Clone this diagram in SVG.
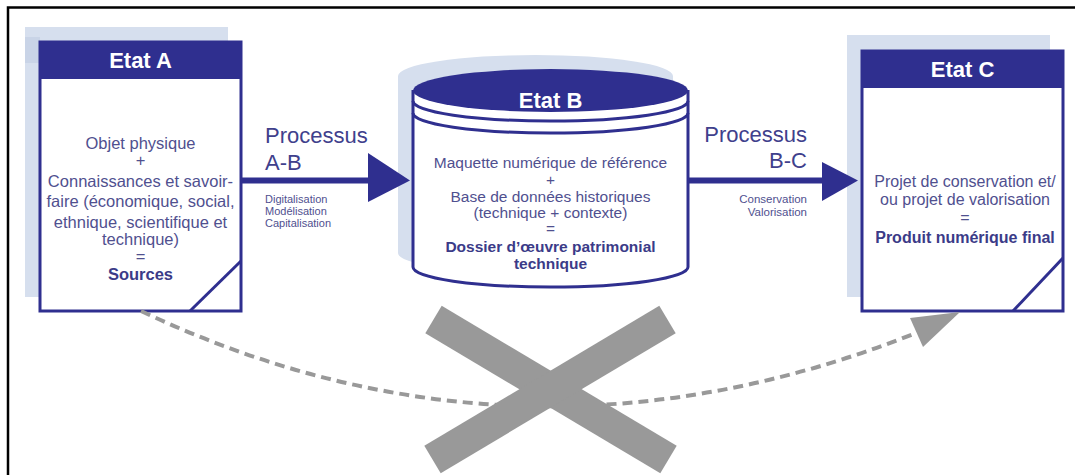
<svg xmlns="http://www.w3.org/2000/svg" width="1075" height="475" viewBox="0 0 1075 475">
<style>
  .frame{fill:none;stroke:#000;stroke-width:2.5}
  .shadow{fill:#d6dfee}
  .shadowDark{fill:#c9d4e7}
  .box{fill:#fff;stroke:#2f2f8f;stroke-width:3}
  .head{fill:#2f2f8f}
  .thin{fill:none;stroke:#2f2f8f;stroke-width:3}
  .title{font-family:"Liberation Sans",Arial,sans-serif;font-weight:bold;font-size:22px;fill:#fff;text-anchor:middle}
  .body{font-family:"Liberation Sans",Arial,sans-serif;font-size:16.5px;fill:#50508f;text-anchor:middle}
  .bodyB{font-size:15.5px}
  .bodyC{font-size:16px}
  .bold{font-weight:bold;fill:#3b3b88}
  .proc{font-family:"Liberation Sans",Arial,sans-serif;font-size:22px;fill:#40408c}
  .small{font-family:"Liberation Sans",Arial,sans-serif;font-size:11px;fill:#50508f}
  .smallR{font-size:11.5px}
  .arrow{stroke:#2f2f8f;stroke-width:6;fill:none}
  .head-blue{fill:#2f2f8f}
  .dash{fill:none;stroke:#999;stroke-width:4;stroke-dasharray:10 6}
  .grey{fill:#999}
</style>

<g id="frame">
  <polyline class="frame" points="8,475 8,7.5 1075,7.5"/>
</g>

<g id="nodeA">
  <rect class="shadow" x="25" y="27" width="203" height="270"/>
  <rect class="shadowDark" x="25" y="37" width="15" height="26"/>
  <rect class="box" x="40" y="42" width="201" height="269"/>
  <rect class="head" x="40" y="42" width="201" height="37"/>
  <line class="thin" x1="241" y1="261" x2="190" y2="311"/>
  <text class="title" x="140.5" y="68">Etat A</text>
  <text class="body" x="140.5" y="149">Objet physique</text>
  <text class="body" x="140.5" y="166">+</text>
  <text class="body" x="140.5" y="187">Connaissances et savoir-</text>
  <text class="body" x="140.5" y="207">faire (économique, social,</text>
  <text class="body" x="140.5" y="227.5">ethnique, scientifique et</text>
  <text class="body" x="140.5" y="244.5">technique)</text>
  <text class="body" x="140.5" y="261.5">=</text>
  <text class="body bold" x="140.5" y="279.5">Sources</text>
</g>

<g id="nodeB">
  <path class="shadow" d="M398,76 A137.5,21 0 0 1 673,76 L673,253 A137.5,20 0 0 1 398,253 Z"/>
  <path class="box" d="M413,90 L413,267 A137.5,20 0 0 0 688,267 L688,90"/>
  <ellipse class="head" cx="550.5" cy="90.5" rx="137.5" ry="21.5"/>
  <path class="thin" stroke-width="2.5" d="M413,101 A137.5,20 0 0 0 688,101"/>
  <path class="thin" stroke-width="2.5" d="M413,113 A137.5,20 0 0 0 688,113"/>
  <text class="title" x="550.5" y="108">Etat B</text>
  <text class="body bodyB" x="550.5" y="168">Maquette numérique de référence</text>
  <text class="body bodyB" x="550.5" y="185">+</text>
  <text class="body bodyB" x="550.5" y="201.5">Base de données historiques</text>
  <text class="body bodyB" x="550.5" y="217.5">(technique + contexte)</text>
  <text class="body bodyB" x="550.5" y="233.5">=</text>
  <text class="body bodyB bold" x="550.5" y="251.5">Dossier d’œuvre patrimonial</text>
  <text class="body bodyB bold" x="550.5" y="268.5">technique</text>
</g>

<g id="nodeC">
  <rect class="shadow" x="847" y="35" width="203" height="262"/>
  <rect class="box" x="862" y="51" width="201" height="260"/>
  <rect class="head" x="862" y="51" width="201" height="37"/>
  <line class="thin" x1="1063" y1="258" x2="1013" y2="311"/>
  <text class="title" x="962.5" y="77">Etat C</text>
  <text class="body bodyC" x="965" y="186.5">Projet de conservation et/</text>
  <text class="body bodyC" x="965" y="204.5">ou projet de valorisation</text>
  <text class="body bodyC" x="965" y="222.5">=</text>
  <text class="body bodyC bold" x="965" y="242.5">Produit numérique final</text>
</g>

<g id="connectors">
  <line class="arrow" x1="241" y1="180.5" x2="372" y2="180.5"/>
  <polygon class="head-blue" points="368,153 410,180.5 368,202"/>
  <line class="arrow" x1="688" y1="180.5" x2="825" y2="180.5"/>
  <polygon class="head-blue" points="822,162 858,180.5 822,201"/>
  <path class="dash" d="M141,311 Q520,490 916,333"/>
  <polygon class="grey" points="960,312 910,318 923,347"/>
</g>

<g id="labelAB">
  <text class="proc" x="265" y="143">Processus</text>
  <text class="proc" x="265" y="170">A-B</text>
  <text class="small" x="265" y="203">Digitalisation</text>
  <text class="small" x="265" y="215">Modélisation</text>
  <text class="small" x="265" y="227">Capitalisation</text>
</g>

<g id="labelBC" text-anchor="end">
  <text class="proc" x="807" y="142">Processus</text>
  <text class="proc" x="807" y="168">B-C</text>
  <text class="small smallR" x="807" y="203">Conservation</text>
  <text class="small smallR" x="807" y="215.5">Valorisation</text>
</g>

<g id="cross">
  <polygon class="grey" points="441.7,305.8 676.7,445.8 660.3,473.2 425.3,333.2"/>
  <polygon class="grey" points="659.3,305.8 675.7,333.2 440.7,473.2 424.3,445.8"/>
</g>
</svg>
